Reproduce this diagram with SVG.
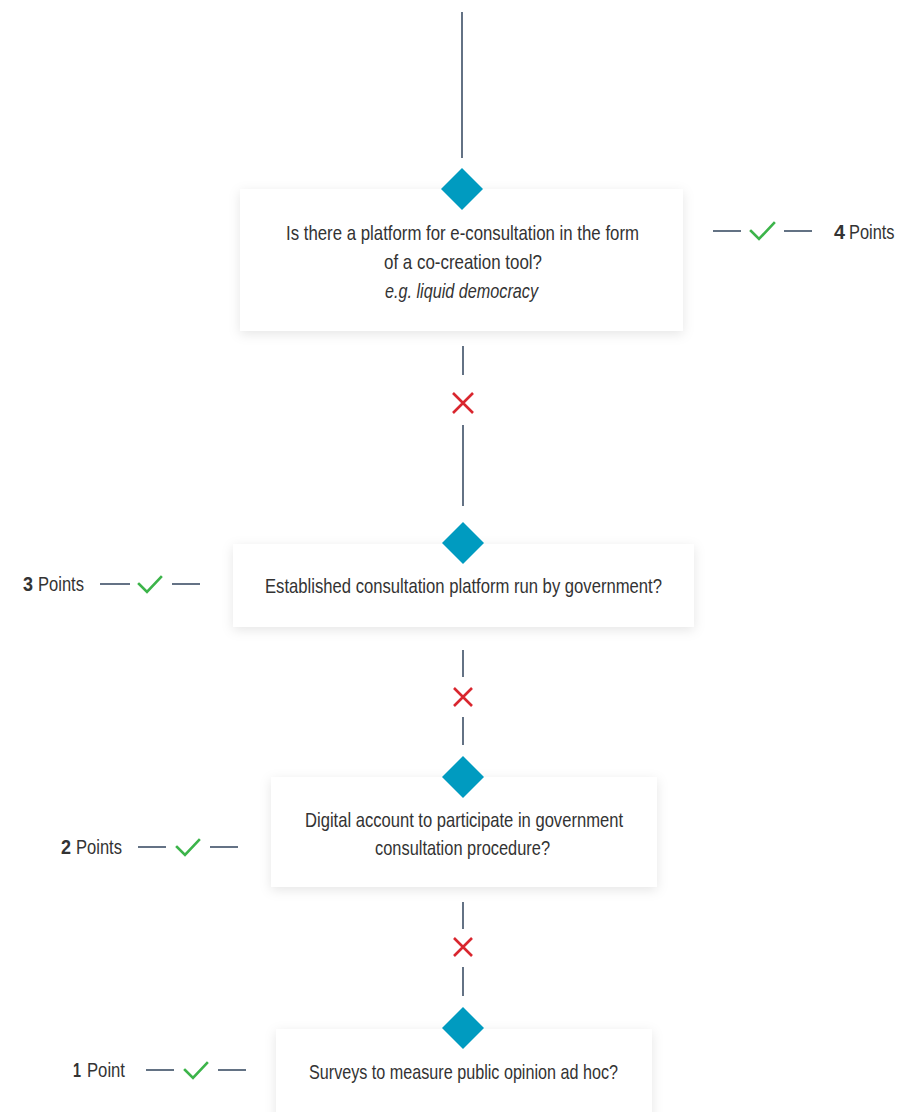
<svg xmlns="http://www.w3.org/2000/svg" width="900" height="1112" viewBox="0 0 900 1112">
<defs>
<filter id="sh" x="-10%" y="-20%" width="120%" height="150%">
<feDropShadow dx="0" dy="3" stdDeviation="6" flood-color="#000" flood-opacity="0.10"/>
</filter>
<style>
.box{fill:#fff;filter:url(#sh)}
.dia{fill:#009bc0}
.ln{stroke:#3d4f66;stroke-width:1.6;fill:none}
.ok{stroke:#3cb44a;stroke-width:2.6;fill:none;stroke-linecap:square}
.no{stroke:#d9262e;stroke-width:2.6;fill:none}
.t{font-family:"Liberation Sans",Arial,sans-serif;font-size:21px;fill:#333}
.p{font-family:"Liberation Sans",Arial,sans-serif;font-size:21px;fill:#333}
.b{font-family:"Liberation Sans",Arial,sans-serif;font-size:21px;fill:#333;font-weight:bold}
</style>
</defs>
<rect width="900" height="1112" fill="#fff"/>
<g id="connectors">
<line class="ln" x1="462" y1="12" x2="462" y2="158"/>
<line class="ln" x1="463" y1="346" x2="463" y2="375"/>
<path class="no" d="M453 393 L473 413 M473 393 L453 413"/>
<line class="ln" x1="463" y1="425" x2="463" y2="506"/>
<line class="ln" x1="463" y1="650" x2="463" y2="677"/>
<path class="no" d="M454 688 L472 706 M472 688 L454 706"/>
<line class="ln" x1="463" y1="717" x2="463" y2="745"/>
<line class="ln" x1="463" y1="902" x2="463" y2="929"/>
<path class="no" d="M454 938 L472 956 M472 938 L454 956"/>
<line class="ln" x1="463" y1="967" x2="463" y2="996"/>
</g>
<g id="node1">
<rect class="box" x="240" y="189" width="443" height="142"/>
<path class="dia" d="M462 168 L483 189 L462 210 L441 189 Z"/>
<text class="t" x="286" y="240" textLength="353" lengthAdjust="spacingAndGlyphs">Is there a platform for e-consultation in the form</text>
<text class="t" x="384" y="269" textLength="158" lengthAdjust="spacingAndGlyphs">of a co-creation tool?</text>
<text class="t" x="385" y="298" textLength="153" lengthAdjust="spacingAndGlyphs" font-style="italic">e.g. liquid democracy</text>
</g>
<g id="score4">
<line class="ln" x1="713" y1="231" x2="741" y2="231"/>
<path class="ok" d="M751 231 L759 239 L774 223"/>
<line class="ln" x1="784" y1="231" x2="812" y2="231"/>
<text class="b" x="834" y="239" textLength="11" lengthAdjust="spacingAndGlyphs">4</text>
<text class="p" transform="translate(849 239) scale(0.78 1)" x="0" y="0">Points</text>
</g>
<g id="node2">
<rect class="box" x="233" y="544" width="461" height="83"/>
<path class="dia" d="M463 522 L484 543 L463 564 L442 543 Z"/>
<text class="t" x="265" y="593" textLength="397" lengthAdjust="spacingAndGlyphs">Established consultation platform run by government?</text>
</g>
<g id="score3">
<text class="b" x="23" y="591" textLength="10" lengthAdjust="spacingAndGlyphs">3</text>
<text class="p" x="38" y="591" textLength="46" lengthAdjust="spacingAndGlyphs">Points</text>
<line class="ln" x1="100" y1="584" x2="130" y2="584"/>
<path class="ok" d="M139 584 L147 592 L161 577"/>
<line class="ln" x1="172" y1="584" x2="200" y2="584"/>
</g>
<g id="node3">
<rect class="box" x="271" y="777" width="386" height="110"/>
<path class="dia" d="M463 756 L484 777 L463 798 L442 777 Z"/>
<text class="t" x="305" y="827" textLength="318" lengthAdjust="spacingAndGlyphs">Digital account to participate in government</text>
<text class="t" x="375" y="855" textLength="175" lengthAdjust="spacingAndGlyphs">consultation procedure?</text>
</g>
<g id="score2">
<text class="b" x="61" y="854" textLength="10" lengthAdjust="spacingAndGlyphs">2</text>
<text class="p" x="76" y="854" textLength="46" lengthAdjust="spacingAndGlyphs">Points</text>
<line class="ln" x1="138" y1="847" x2="166" y2="847"/>
<path class="ok" d="M177 847 L185 855 L199 840"/>
<line class="ln" x1="210" y1="847" x2="238" y2="847"/>
</g>
<g id="node4">
<rect class="box" x="276" y="1029" width="376" height="100"/>
<path class="dia" d="M463 1007 L484 1028 L463 1049 L442 1028 Z"/>
<text class="t" x="309" y="1079" textLength="309" lengthAdjust="spacingAndGlyphs">Surveys to measure public opinion ad hoc?</text>
</g>
<g id="score1">
<text class="b" x="73" y="1077" textLength="8" lengthAdjust="spacingAndGlyphs">1</text>
<text class="p" x="87" y="1077" textLength="38" lengthAdjust="spacingAndGlyphs">Point</text>
<line class="ln" x1="146" y1="1070" x2="174" y2="1070"/>
<path class="ok" d="M185 1070 L193 1078 L207 1063"/>
<line class="ln" x1="218" y1="1070" x2="246" y2="1070"/>
</g>
</svg>
